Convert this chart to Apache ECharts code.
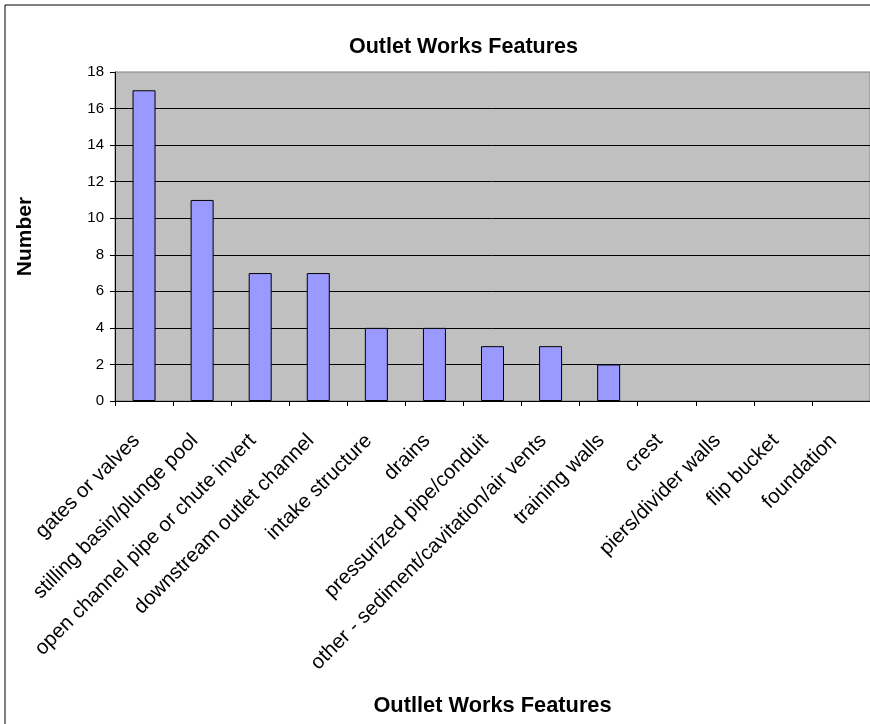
<!DOCTYPE html>
<html>
<head>
<meta charset="utf-8">
<title>Outlet Works Features</title>
<script src="https://cdn.jsdelivr.net/npm/echarts@6/dist/echarts.min.js"></script>
<style>
  html, body { margin: 0; padding: 0; background: #fff; }
  #main { width: 870px; height: 724px; }
</style>
</head>
<body>
<div id="main"></div>
<script>
// data
var categories = [
    'gates or valves',
    'stilling basin/plunge pool',
    'open channel pipe or chute invert',
    'downstream outlet channel',
    'intake structure',
    'drains',
    'pressurized pipe/conduit',
    'other - sediment/cavitation/air vents',
    'training walls',
    'crest',
    'piers/divider walls',
    'flip bucket',
    'foundation'
];
var counts = [17, 11, 7, 7, 4, 4, 3, 3, 2, 0, 0, 0, 0];

var FONT = "'Liberation Sans', Arial, sans-serif";

var myChart = echarts.init(document.getElementById('main'));

myChart.setOption({
    animation: false,
    backgroundColor: '#fff',
    title: {
        text: 'Outlet Works Features',
        left: 344,
        top: 31,
        textStyle: { fontFamily: FONT, fontSize: 21.5, fontWeight: 'bold', color: '#000' }
    },
    graphic: [{
        type: 'rect',
        shape: { x: 5, y: 5, width: 900, height: 800 },
        style: { fill: 'none', stroke: '#000', lineWidth: 1 },
        z: -1
    }],
    grid: {
        left: 115,
        top: 72,
        right: -4,
        bottom: 323,
        show: true,
        backgroundColor: '#c0c0c0',
        borderColor: '#808080',
        borderWidth: 1
    },
    xAxis: {
        type: 'category',
        data: categories,
        name: 'Outllet Works Features',
        nameLocation: 'middle',
        nameGap: 294,
        nameTextStyle: { fontFamily: FONT, fontSize: 21.8, fontWeight: 'bold', color: '#000' },
        axisLine: { lineStyle: { color: '#000', width: 1 } },
        axisTick: { show: true, length: 5, lineStyle: { color: '#000' } },
        axisLabel: {
            interval: 0,
            rotate: 45,
            margin: 44,
            verticalAlign: 'bottom',
            fontFamily: FONT,
            fontSize: 20.5,
            color: '#000'
        }
    },
    yAxis: {
        type: 'value',
        min: 0,
        max: 18,
        interval: 2,
        name: 'Number',
        nameLocation: 'middle',
        nameGap: 79,
        nameTextStyle: { fontFamily: FONT, fontSize: 21, fontWeight: 'bold', color: '#000' },
        axisLine: { show: true, lineStyle: { color: '#000', width: 1 } },
        axisTick: { show: true, length: 5, lineStyle: { color: '#000' } },
        axisLabel: { margin: 11, fontFamily: FONT, fontSize: 15, color: '#000' },
        splitLine: { show: true, showMaxLine: false, lineStyle: { color: '#000', width: 1 } }
    },
    series: [{
        name: 'Number',
        type: 'bar',
        // empty categories draw no bar at all
        data: counts.map(function (v) { return v === 0 ? '-' : v; }),
        barWidth: 23,
        itemStyle: { color: '#9999ff', borderColor: '#000', borderWidth: 1 }
    }]
});
</script>
</body>
</html>
